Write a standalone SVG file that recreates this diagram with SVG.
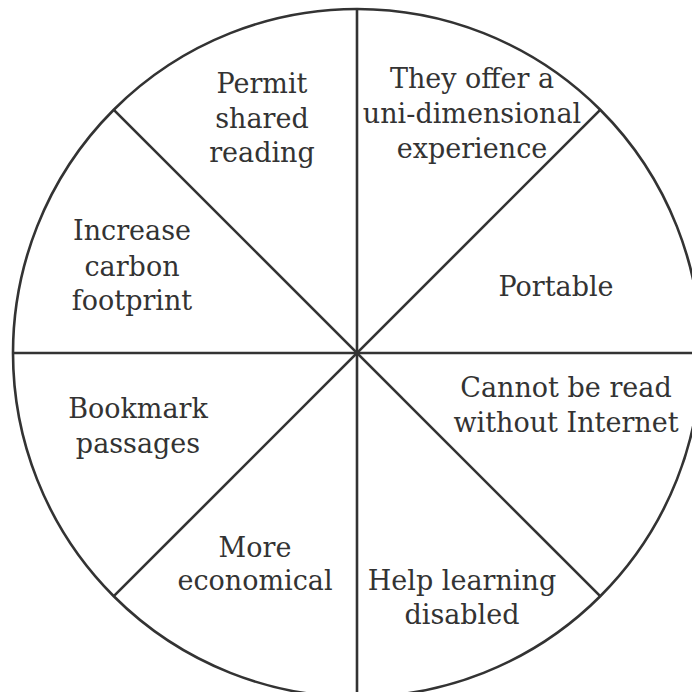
<svg xmlns="http://www.w3.org/2000/svg" width="692" height="692" viewBox="0 0 692 692">
<style>
.ln{stroke:#333;stroke-width:2.6;fill:none}
.t{font-family:"DejaVu Serif","Liberation Serif",serif;font-size:27px;fill:#333;text-anchor:middle}
</style>
<rect width="692" height="692" fill="#fff"/>
<g id="connectors">
<circle class="ln" cx="357" cy="353" r="344"/>
<line class="ln" x1="357" y1="9" x2="357" y2="697"/>
<line class="ln" x1="13" y1="353" x2="701" y2="353"/>
<line class="ln" x1="113.8" y1="109.8" x2="600.2" y2="596.2"/>
<line class="ln" x1="600.2" y1="109.8" x2="113.8" y2="596.2"/>
</g>
<g id="n1"><text class="t" x="262" y="93">Permit</text><text class="t" x="262" y="128">shared</text><text class="t" x="262" y="162">reading</text></g>
<g id="n2"><text class="t" x="472" y="88">They offer a</text><text class="t" x="472" y="123">uni-dimensional</text><text class="t" x="472" y="158">experience</text></g>
<g id="n3"><text class="t" x="132" y="240">Increase</text><text class="t" x="132" y="276">carbon</text><text class="t" x="132" y="310">footprint</text></g>
<g id="n4"><text class="t" x="556" y="296">Portable</text></g>
<g id="n5"><text class="t" x="566" y="397">Cannot be read</text><text class="t" x="566" y="432">without Internet</text></g>
<g id="n6"><text class="t" x="138" y="418">Bookmark</text><text class="t" x="138" y="453">passages</text></g>
<g id="n7"><text class="t" x="255" y="557">More</text><text class="t" x="255" y="590">economical</text></g>
<g id="n8"><text class="t" x="462" y="590">Help learning</text><text class="t" x="462" y="624">disabled</text></g>
</svg>
